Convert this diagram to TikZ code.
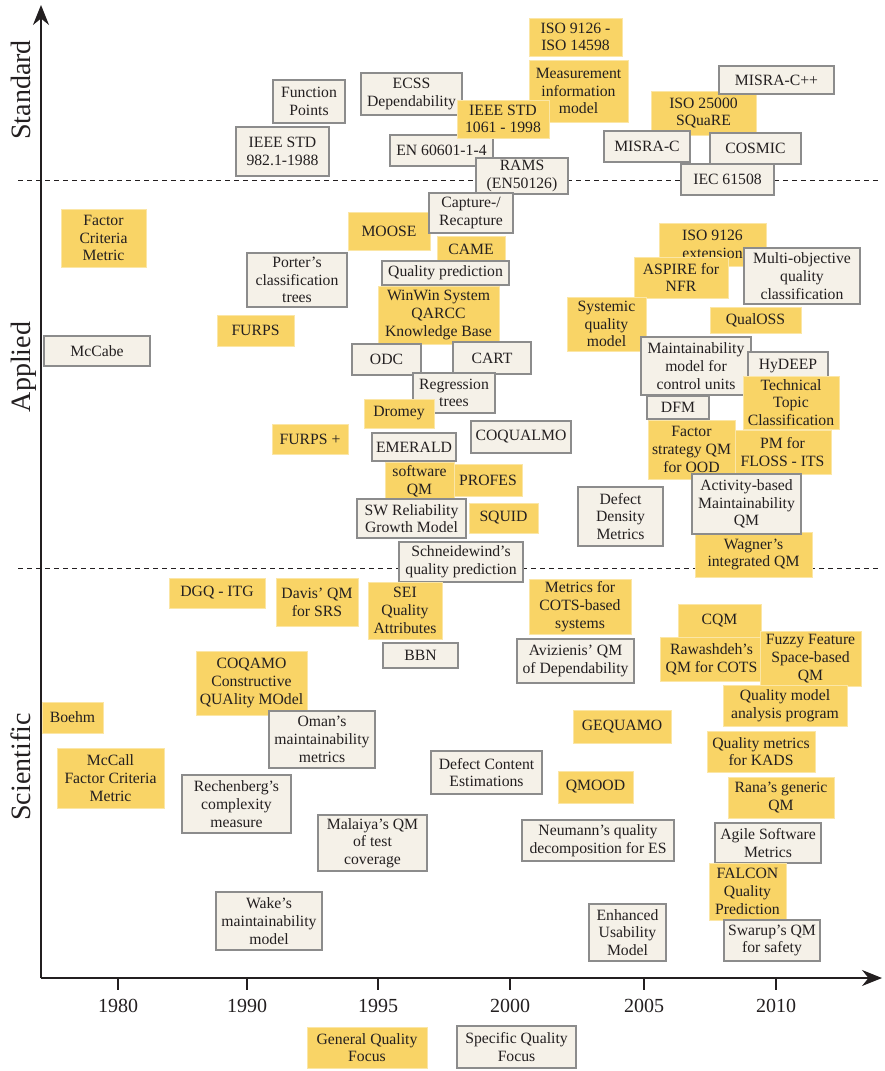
\documentclass[tikz,border=0pt]{standalone}
\usepackage{fontspec}
\setmainfont{Liberation Serif}
\usetikzlibrary{arrows.meta}

\definecolor{qyellow}{HTML}{F9D466}
\definecolor{qyedge}{HTML}{FBE6A6}
\definecolor{qgray}{HTML}{F5F1E8}
\definecolor{qgedge}{HTML}{8C8C8C}
\definecolor{qtext}{HTML}{231F20}

\newcommand\boxfont{\fontsize{15.7pt}{17.7pt}\selectfont}
% \qmbox{name}{style}{left}{top}{right}{bottom}{text}
\newcommand\qmbox[7]{%
  \node[#2, minimum width={(#5-#3)*1pt}, minimum height={(#6-#4)*1pt}]
    (#1) at ({(#3+#5)/2},{(#4+#6)/2}) {#7};}

\tikzset{
  gen/.style={rectangle, fill=qyellow, draw=qyedge, line width=0.9pt,
    inner sep=0pt, align=center, text=qtext, font=\boxfont},
  spec/.style={rectangle, fill=qgray, draw=qgedge, line width=1.1pt,
    inner sep=0pt, align=center, text=qtext, font=\boxfont},
  axis/.style={line width=1.2pt, draw=qtext},
  level/.style={dash pattern=on 5pt off 4pt, line width=0.9pt, draw=qtext},
  axislabel/.style={rotate=90, anchor=base, text=qtext,
    font=\fontsize{28pt}{32pt}\selectfont},
  yearlabel/.style={anchor=base, text=qtext,
    font=\fontsize{20pt}{24pt}\selectfont}
}

\begin{document}
\begin{tikzpicture}[x=1pt, y=-1pt]
\useasboundingbox (0,0) rectangle (884,1071);

% level separators
\coordinate (s1a) at (18,180);  \coordinate (s1b) at (878,180);
\coordinate (s2a) at (18,568);  \coordinate (s2b) at (878,568);
\draw[level] (s1a) -- (s1b);
\draw[level] (s2a) -- (s2b);

% axes
\coordinate (origin) at (41,978);
\coordinate (ytop) at (41,5);
\coordinate (xend) at (882,978);
\draw[axis, -{Stealth[length=20pt, width=16pt]}] (origin) -- (ytop);
\draw[axis, -{Stealth[length=20pt, width=16pt]}] (origin) -- (xend);

\foreach \x/\yr in {118/1980, 247/1990, 378/1995, 510/2000, 644/2005, 776/2010} {
  \draw[axis] (\x,978) -- (\x,990);
  \node[yearlabel] (y\yr) at (\x,1012) {\yr};
}

\node[axislabel] (lstd) at (30,90)  {Standard};
\node[axislabel] (lapp) at (30,367) {Applied};
\node[axislabel] (lsci) at (30,767) {Scientific};

% ---- Standard ----
\qmbox{fp}{spec}{273}{80}{345}{123}{Function\\Points}
\qmbox{ieeeA}{spec}{236}{127}{329}{176}{IEEE STD\\982.1-1988}
\qmbox{ecss}{spec}{361}{73}{462}{115}{ECSS\\Dependability}
\qmbox{enA}{spec}{390}{135}{493}{166}{EN 60601-1-4}
\qmbox{isoA}{gen}{529}{18}{622}{56}{ISO 9126 -\\ISO 14598}
\qmbox{mim}{gen}{529}{60}{628}{122}{Measurement\\information\\model}
\qmbox{ieeeB}{gen}{457}{100}{549}{138}{IEEE STD\\1061 - 1998}
\qmbox{rams}{spec}{476}{158}{568}{194}{RAMS\\(EN50126)}
\qmbox{isoB}{gen}{651}{91}{756}{135}{ISO 25000\\SQuaRE}
\qmbox{misracpp}{spec}{719}{66}{834}{94}{MISRA-C++}
\qmbox{misrac}{spec}{604}{131}{690}{162}{MISRA-C}
\qmbox{cosmic}{spec}{710}{133}{801}{164}{COSMIC}
\qmbox{iec}{spec}{681}{164}{774}{195}{IEC 61508}

% ---- Applied ----
\qmbox{fcm}{gen}{61}{209}{146}{267}{Factor\\Criteria\\Metric}
\qmbox{porter}{spec}{247}{253}{347}{307}{Porter’s\\classification\\trees}
\qmbox{mccabe}{spec}{44}{336}{150}{366}{McCabe}
\qmbox{furps}{gen}{217}{315}{294}{346}{FURPS}
\qmbox{furpsplus}{gen}{272}{424}{348}{454}{FURPS +}
\qmbox{moose}{gen}{348}{212}{430}{250}{MOOSE}
\qmbox{capture}{spec}{429}{193}{513}{233}{Capture-/\\Recapture}
\qmbox{came}{gen}{437}{236}{505}{262}{CAME}
\qmbox{qpred}{spec}{382}{261}{509}{285}{Quality prediction}
\qmbox{winwin}{gen}{378}{286}{499}{344}{WinWin System\\QARCC\\Knowledge Base}
\qmbox{odc}{spec}{352}{344}{421}{375}{ODC}
\qmbox{cart}{spec}{453}{342}{531}{374}{CART}
\qmbox{regtrees}{spec}{413}{373}{495}{413}{Regression\\trees}
\qmbox{dromey}{gen}{364}{399}{434}{428}{Dromey}
\qmbox{coqualmo}{spec}{471}{421}{571}{453}{COQUALMO}
\qmbox{emerald}{spec}{372}{433}{456}{461}{EMERALD}
\qmbox{swqm}{gen}{385}{462}{454}{500}{software\\QM}
\qmbox{profes}{gen}{454}{464}{522}{496}{PROFES}
\qmbox{swrel}{spec}{357}{499}{466}{538}{SW Reliability\\Growth Model}
\qmbox{squid}{gen}{469}{503}{538}{533}{SQUID}
\qmbox{schneid}{spec}{399}{542}{523}{582}{Schneidewind’s\\quality prediction}
\qmbox{isoext}{gen}{659}{223}{766}{266}{ISO 9126\\extension}
\qmbox{aspire}{gen}{634}{257}{728}{298}{ASPIRE for\\NFR}
\qmbox{multiobj}{spec}{744}{248}{860}{304}{Multi-objective\\quality\\classification}
\qmbox{systemic}{gen}{567}{297}{646}{351}{Systemic\\quality\\model}
\qmbox{qualoss}{gen}{710}{307}{801}{333}{QualOSS}
\qmbox{maintcu}{spec}{641}{337}{751}{395}{Maintainability\\model for\\control units}
\qmbox{hydeep}{spec}{748}{352}{828}{380}{HyDEEP}
\qmbox{ttc}{gen}{743}{376}{839}{429}{Technical\\Topic\\Classification}
\qmbox{dfm}{spec}{647}{396}{709}{419}{DFM}
\qmbox{pmfloss}{gen}{734}{430}{831}{474}{PM for\\FLOSS - ITS}
\qmbox{fsqm}{gen}{648}{420}{735}{479}{Factor\\strategy QM\\for OOD}
\qmbox{ddm}{spec}{578}{487}{663}{546}{Defect\\Density\\Metrics}
\qmbox{wagner}{gen}{695}{532}{812}{577}{Wagner’s\\integrated QM}
\qmbox{activity}{spec}{692}{474}{801}{534}{Activity-based\\Maintainability\\QM}

% ---- Scientific ----
\qmbox{dgq}{gen}{169}{578}{265}{608}{DGQ - ITG}
\qmbox{davis}{gen}{276}{578}{358}{626}{Davis’ QM\\for SRS}
\qmbox{sei}{gen}{368}{582}{442}{639}{SEI\\Quality\\Attributes}
\qmbox{bbn}{spec}{383}{643}{458}{668}{BBN}
\qmbox{cots}{gen}{529}{579}{631}{634}{Metrics for\\COTS-based\\systems}
\qmbox{avizienis}{spec}{517}{639}{634}{683}{Avizienis’ QM\\of Dependability}
\qmbox{coqamo}{gen}{196}{651}{307}{715}{COQAMO\\Constructive\\QUAlity MOdel}
\qmbox{boehm}{gen}{42}{702}{103}{733}{Boehm}
\qmbox{oman}{spec}{269}{711}{375}{768}{Oman’s\\maintainability\\metrics}
\qmbox{mccall}{gen}{57}{748}{164}{808}{McCall\\Factor Criteria\\Metric}
\qmbox{rechenberg}{spec}{182}{775}{291}{833}{Rechenberg’s\\complexity\\measure}
\qmbox{dce}{spec}{431}{751}{542}{794}{Defect Content\\Estimations}
\qmbox{gequamo}{gen}{573}{710}{671}{743}{GEQUAMO}
\qmbox{qmood}{gen}{558}{771}{633}{803}{QMOOD}
\qmbox{malaiya}{spec}{318}{815}{427}{871}{Malaiya’s QM\\of test\\coverage}
\qmbox{neumann}{spec}{522}{820}{674}{861}{Neumann’s quality\\decomposition for ES}
\qmbox{wake}{spec}{216}{892}{322}{950}{Wake’s\\maintainability\\model}
\qmbox{eum}{spec}{589}{904}{666}{961}{Enhanced\\Usability\\Model}
\qmbox{cqm}{gen}{678}{604}{761}{637}{CQM}
\qmbox{rawashdeh}{gen}{660}{637}{763}{681}{Rawashdeh’s\\QM for COTS}
\qmbox{fuzzy}{gen}{760}{631}{861}{686}{Fuzzy Feature\\Space-based\\QM}
\qmbox{qmap}{gen}{723}{685}{847}{726}{Quality model\\analysis program}
\qmbox{kads}{gen}{707}{731}{815}{772}{Quality metrics\\for KADS}
\qmbox{rana}{gen}{728}{777}{834}{818}{Rana’s generic\\QM}
\qmbox{agile}{spec}{715}{823}{821}{863}{Agile Software\\Metrics}
\qmbox{falcon}{gen}{709}{863}{786}{920}{FALCON\\Quality\\Prediction}
\qmbox{swarup}{spec}{724}{920}{820}{961}{Swarup’s QM\\for safety}

% ---- legend ----
\qmbox{lgen}{gen}{307}{1027}{427}{1068}{General Quality\\Focus}
\qmbox{lspec}{spec}{457}{1026}{576}{1068}{Specific Quality\\Focus}
\end{tikzpicture}
\end{document}
